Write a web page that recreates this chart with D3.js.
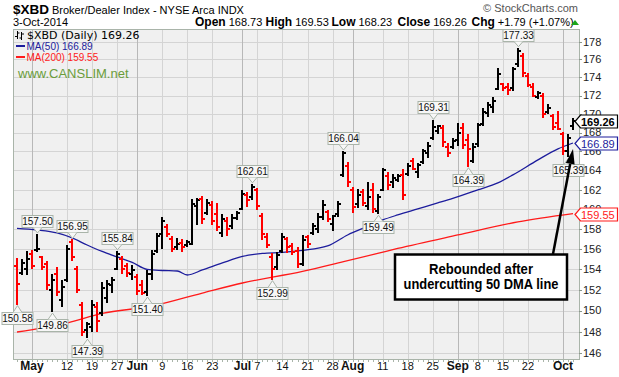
<!DOCTYPE html>
<html>
<head>
<meta charset="utf-8">
<script src="https://cdn.jsdelivr.net/npm/d3@7"></script>
<style>
  body { margin: 0; background: #fff; }
  svg { display: block; font-family: "Liberation Sans", Arial, sans-serif; }
</style>
</head>
<body>
<svg id="chart" width="619" height="377"></svg>
<script>
// trading days shown on the chart
const dates = [
  '2014-04-28','2014-04-29','2014-04-30','2014-05-01','2014-05-02','2014-05-05','2014-05-06','2014-05-07','2014-05-08','2014-05-09',
  '2014-05-12','2014-05-13','2014-05-14','2014-05-15','2014-05-16','2014-05-19','2014-05-20','2014-05-21','2014-05-22','2014-05-23',
  '2014-05-27','2014-05-28','2014-05-29','2014-05-30','2014-06-02','2014-06-03','2014-06-04','2014-06-05','2014-06-06','2014-06-09',
  '2014-06-10','2014-06-11','2014-06-12','2014-06-13','2014-06-16','2014-06-17','2014-06-18','2014-06-19','2014-06-20','2014-06-23',
  '2014-06-24','2014-06-25','2014-06-26','2014-06-27','2014-06-30','2014-07-01','2014-07-02','2014-07-03','2014-07-07','2014-07-08',
  '2014-07-09','2014-07-10','2014-07-11','2014-07-14','2014-07-15','2014-07-16','2014-07-17','2014-07-18','2014-07-21','2014-07-22',
  '2014-07-23','2014-07-24','2014-07-25','2014-07-28','2014-07-29','2014-07-30','2014-07-31','2014-08-01','2014-08-04','2014-08-05',
  '2014-08-06','2014-08-07','2014-08-08','2014-08-11','2014-08-12','2014-08-13','2014-08-14','2014-08-15','2014-08-18','2014-08-19',
  '2014-08-20','2014-08-21','2014-08-22','2014-08-25','2014-08-26','2014-08-27','2014-08-28','2014-08-29','2014-09-02','2014-09-03',
  '2014-09-04','2014-09-05','2014-09-08','2014-09-09','2014-09-10','2014-09-11','2014-09-12','2014-09-15','2014-09-16','2014-09-17',
  '2014-09-18','2014-09-19','2014-09-22','2014-09-23','2014-09-24','2014-09-25','2014-09-26','2014-09-29','2014-09-30','2014-10-01',
  '2014-10-02','2014-10-03'
]

const opens = [
  154.3,153.6,154.0,155.5,155.9,155.2,154.5,152.0,153.5,151.0,
  153.0,156.7,154.0,150.5,148.2,148.4,150.3,149.8,151.2,152.5,
  154.0,155.0,154.3,153.5,153.2,152.5,151.8,153.5,155.8,157.5,
  158.2,157.0,156.2,156.6,156.4,156.5,160.3,161.0,159.6,160.4,
  159.5,157.6,158.8,158.3,159.1,160.0,161.5,161.2,162.0,159.3,
  157.2,155.2,154.2,155.8,157.0,156.3,155.8,154.5,157.2,157.6,
  158.0,159.2,159.7,158.5,159.5,163.5,164.5,162.0,160.5,161.8,
  160.3,162.0,159.8,162.0,163.4,162.8,163.0,163.5,163.6,165.0,
  163.8,164.9,165.8,167.4,168.2,168.5,166.5,166.5,167.2,168.5,
  167.2,165.0,166.8,168.9,170.1,170.8,172.7,173.3,173.0,172.8,
  175.5,176.4,174.2,173.0,171.8,172.0,170.2,169.8,169.0,167.8,
  166.0,168.73
]
const highs = [
  155.1,155.0,155.8,155.9,157.50,155.3,154.8,153.5,154.2,153.0,
  156.4,156.95,154.3,150.8,148.9,151.0,150.8,152.8,153.0,153.2,
  155.84,155.3,154.6,154.4,153.5,153.0,153.9,155.9,157.6,159.2,
  158.5,157.3,157.1,157.0,156.9,161.0,161.1,161.4,161.0,160.8,
  160.6,159.5,159.2,159.5,159.8,162.0,161.8,162.61,162.2,159.6,
  157.6,155.6,155.7,157.6,157.2,156.6,156.2,157.4,157.4,158.6,
  159.6,160.9,159.9,159.4,160.8,166.04,164.9,162.3,162.1,162.1,
  162.8,162.7,161.6,164.3,163.8,163.6,163.6,164.1,164.8,165.3,
  164.8,166.3,167.0,169.31,168.8,168.8,166.9,167.4,169.0,169.0,
  167.9,166.9,169.0,170.6,171.3,171.8,175.0,173.4,173.4,175.2,
  177.33,176.7,174.5,173.4,172.5,172.3,171.1,170.0,170.3,168.1,
  167.9,169.53
]
const lows = [
  150.58,153.4,153.4,154.0,155.7,153.9,152.0,149.86,151.4,150.3,
  152.8,154.8,151.7,147.6,147.39,148.0,148.0,149.5,150.7,151.7,
  153.9,153.5,153.2,153.0,151.5,151.5,151.40,153.0,155.6,156.0,
  157.2,155.7,155.9,155.7,156.2,156.4,158.4,158.5,159.4,158.4,
  157.8,157.2,157.3,158.0,158.9,159.9,160.2,160.9,159.9,156.9,
  156.1,152.99,153.9,155.6,155.6,155.4,154.1,154.3,156.1,157.4,
  157.6,158.9,158.7,157.8,159.2,163.3,162.3,159.6,160.1,160.3,
  159.9,159.6,159.49,161.9,162.0,162.2,162.8,160.9,163.4,164.0,
  163.2,164.7,165.3,167.2,167.9,166.5,165.4,166.3,166.6,166.3,
  164.39,164.8,166.5,168.7,169.7,170.1,172.6,172.5,172.1,172.5,
  175.2,174.1,172.9,171.8,171.6,169.6,170.0,168.3,168.3,165.6,
  165.39,168.23
]
const closes = [
  152.6,154.6,155.0,154.3,156.0,154.2,152.5,153.0,151.8,152.3,
  156.0,155.2,152.0,148.0,148.7,150.5,149.0,152.2,152.6,153.0,
  155.5,154.0,153.6,153.9,151.9,151.7,153.5,155.5,157.3,158.8,
  157.5,156.0,156.5,156.2,156.7,160.5,160.9,159.0,160.6,158.8,
  158.2,159.0,158.0,159.1,159.6,161.6,160.9,162.3,160.3,157.5,
  156.4,154.0,155.4,157.2,156.2,155.7,154.5,156.9,156.5,158.3,
  159.2,160.4,159.0,159.3,160.5,165.8,162.8,160.2,161.5,160.6,
  161.2,160.0,161.3,164.0,162.5,163.2,163.4,161.5,164.5,164.2,
  164.6,166.0,166.6,168.6,168.7,167.0,165.8,167.1,168.0,166.7,
  166.2,166.5,168.8,170.2,171.0,171.4,174.4,172.8,172.6,174.9,
  177.0,174.5,173.2,172.0,172.3,170.0,170.6,168.6,168.4,166.0,
  167.47,169.26
]

// moving averages
const ma50Dates = ['2014-04-28','2014-05-02','2014-05-08','2014-05-13','2014-05-16','2014-05-21','2014-05-27','2014-05-30',
  '2014-06-04','2014-06-09','2014-06-12','2014-06-16','2014-06-19','2014-06-25','2014-07-01','2014-07-08','2014-07-14',
  '2014-07-18','2014-07-25','2014-07-31','2014-08-06','2014-08-11','2014-08-14','2014-08-20','2014-08-26','2014-08-29',
  '2014-09-08','2014-09-12','2014-09-17','2014-09-24','2014-09-30','2014-10-03']
const ma50 = [158.06,157.90,157.60,157.10,156.40,155.76,155.21,154.67,
  153.98,153.88,153.83,153.44,153.93,154.62,155.26,155.56,155.66,
  155.86,156.30,157.40,158.26,158.91,159.42,160.03,160.64,161.11,
  161.98,162.70,163.53,165.11,166.27,166.89]
const ma200Dates = ['2014-04-28','2014-05-12','2014-05-21','2014-06-05','2014-06-19','2014-07-01','2014-07-18',
  '2014-07-30','2014-08-08','2014-08-14','2014-09-02','2014-09-18','2014-10-03']
const ma200 = [147.97,148.82,149.73,150.44,151.69,152.66,153.79,154.72,155.56,156.05,157.40,158.71,159.55]

const yTicks = [146,148,150,152,154,156,158,160,162,164,166,168,170,172,174,176,178]
const xTicks = [
  ['2014-05-01','May'],['2014-05-12','12'],['2014-05-19','19'],['2014-05-27','27'],['2014-06-02','Jun'],
  ['2014-06-09','9'],['2014-06-16','16'],['2014-06-23','23'],['2014-07-01','Jul'],['2014-07-07','7'],
  ['2014-07-14','14'],['2014-07-21','21'],['2014-07-28','28'],['2014-08-01','Aug'],['2014-08-11','11'],
  ['2014-08-18','18'],['2014-08-25','25'],['2014-09-02','Sep'],['2014-09-08','8'],['2014-09-15','15'],
  ['2014-09-22','22'],['2014-10-01','Oct']
]
// highs (H) and lows (L) that carry a price tag
const callouts = [
  ['2014-04-28','L'],['2014-05-02','H'],['2014-05-07','L'],['2014-05-13','H'],['2014-05-16','L'],
  ['2014-05-27','H'],['2014-06-04','L'],['2014-07-03','H'],['2014-07-10','L'],['2014-07-30','H'],
  ['2014-08-08','L'],['2014-08-25','H'],['2014-09-04','L'],['2014-09-18','H'],['2014-10-02','L']
]

const svg = d3.select('#chart')
const pLeft = 13, pRight = 579, pTop = 29, pBottom = 359

const x = d3.scalePoint().domain(dates).range([17, 573])
const y = d3.scaleLog().domain([145.45, 179.45]).range([pBottom, pTop])

// plot area
svg.append('rect')
  .attr('x', pLeft).attr('y', pTop)
  .attr('width', pRight - pLeft).attr('height', pBottom - pTop)
  .attr('fill', '#f0f0f0')

const grid = svg.append('g').attr('shape-rendering', 'crispEdges')
grid.append('g').selectAll('line')
  .data(yTicks)
  .join('line')
  .attr('x1', pLeft).attr('x2', pRight)
  .attr('y1', d => Math.round(y(d)) + 0.5)
  .attr('y2', d => Math.round(y(d)) + 0.5)
  .attr('stroke', '#d4d4d4')

grid.append('g').selectAll('line')
  .data(xTicks)
  .join('line')
  .attr('x1', d => Math.round(x(d[0])) + 0.5)
  .attr('x2', d => Math.round(x(d[0])) + 0.5)
  .attr('y1', pTop).attr('y2', pBottom)
  .attr('stroke', d => isNaN(d[1]) ? '#b8b8b8' : '#d4d4d4')

svg.append('rect')
  .attr('x', pLeft + 0.5).attr('y', pTop + 0.5)
  .attr('width', pRight - pLeft).attr('height', pBottom - pTop)
  .attr('fill', 'none')
  .attr('stroke', '#a9b4a9')
  .attr('shape-rendering', 'crispEdges')

// small tick marks
svg.append('g').selectAll('line')
  .data(yTicks)
  .join('line')
  .attr('x1', pRight).attr('x2', pRight + 3)
  .attr('y1', d => Math.round(y(d)) + 0.5)
  .attr('y2', d => Math.round(y(d)) + 0.5)
  .attr('stroke', '#8a968a')

svg.append('g').selectAll('line')
  .data(dates)
  .join('line')
  .attr('x1', d => Math.round(x(d)) + 0.5)
  .attr('x2', d => Math.round(x(d)) + 0.5)
  .attr('y1', pBottom + 1).attr('y2', pBottom + 3)
  .attr('stroke', '#a9b4a9')

// axis labels
svg.append('g').selectAll('text')
  .data(yTicks)
  .join('text')
  .attr('x', 583)
  .attr('y', d => y(d))
  .attr('dy', '0.35em')
  .attr('font-size', 11)
  .attr('fill', '#222')
  .text(d => d)

svg.append('g').selectAll('text')
  .data(xTicks)
  .join('text')
  .attr('x', d => x(d[0]))
  .attr('y', 370)
  .attr('text-anchor', 'middle')
  .attr('font-size', d => isNaN(d[1]) ? 12 : 11)
  .attr('font-weight', d => isNaN(d[1]) ? 'bold' : 'normal')
  .attr('fill', '#111')
  .text(d => d[1])

// clip for the price area
svg.append('clipPath').attr('id', 'plotclip')
  .append('rect')
  .attr('x', pLeft + 1).attr('y', pTop + 1)
  .attr('width', pRight - pLeft - 1).attr('height', pBottom - pTop - 1)

const plot = svg.append('g').attr('clip-path', 'url(#plotclip)')

// moving averages
const maLine = d3.line()
  .x(d => x(d[0]))
  .y(d => y(d[1]))
  .curve(d3.curveMonotoneX)

plot.append('path')
  .datum(d3.zip(ma200Dates, ma200))
  .attr('d', maLine)
  .attr('fill', 'none')
  .attr('stroke', '#ff1a1a')
  .attr('stroke-width', 1.3)

plot.append('path')
  .datum(d3.zip(ma50Dates, ma50))
  .attr('d', maLine)
  .attr('fill', 'none')
  .attr('stroke', '#1c1c9c')
  .attr('stroke-width', 1.3)

// OHLC bars
const bars = dates.map((d, i) => ({
  d: d, o: opens[i], h: highs[i], l: lows[i], c: closes[i],
  up: i ? closes[i] > closes[i - 1] : closes[i] >= opens[i]
}))

const barG = plot.append('g').attr('shape-rendering', 'crispEdges')
  .selectAll('g')
  .data(bars)
  .join('g')
  .attr('stroke', b => b.up ? '#000' : '#ff0000')

barG.append('line')
  .attr('stroke-width', 2)
  .attr('x1', b => Math.round(x(b.d)))
  .attr('x2', b => Math.round(x(b.d)))
  .attr('y1', b => y(b.h))
  .attr('y2', b => y(b.l))

barG.append('line')
  .attr('stroke-width', 1.5)
  .attr('x1', b => Math.round(x(b.d)) - 3)
  .attr('x2', b => Math.round(x(b.d)))
  .attr('y1', b => Math.round(y(b.o)))
  .attr('y2', b => Math.round(y(b.o)))

barG.append('line')
  .attr('stroke-width', 1.5)
  .attr('x1', b => Math.round(x(b.d)))
  .attr('x2', b => Math.round(x(b.d)) + 3)
  .attr('y1', b => Math.round(y(b.c)))
  .attr('y2', b => Math.round(y(b.c)))

// price tags on highs and lows
const tagG = svg.append('g')
callouts.forEach(([d, kind]) => {
  const i = dates.indexOf(d)
  const val = kind === 'H' ? highs[i] : lows[i]
  const bx = Math.round(x(d))
  const tip = kind === 'H' ? y(val) - 1 : y(val) + 1
  const bh = 12, bw = 31
  const by = Math.round(kind === 'H' ? tip - 6 - bh : tip + 6)
  const g = tagG.append('g')
  const edge = kind === 'H' ? by + bh + 0.5 : by + 0.5
  g.append('rect')
    .attr('x', bx - bw / 2 + 0.5).attr('y', by + 0.5)
    .attr('width', bw).attr('height', bh)
    .attr('fill', '#f7f7f7')
    .attr('stroke', '#a9b4a9')
  g.append('path')
    .attr('d', `M${bx - 4},${edge} L${bx + 0.5},${tip} L${bx + 5},${edge}`)
    .attr('fill', '#f7f7f7')
    .attr('stroke', '#a9b4a9')
  g.append('text')
    .attr('x', bx + 0.5)
    .attr('y', by + 10)
    .attr('text-anchor', 'middle')
    .attr('font-size', 10)
    .attr('fill', '#111')
    .text(val.toFixed(2))
})

// last value tags on the right axis
const lastTags = [
  [closes[closes.length - 1], '#000', 'bold'],
  [ma50[ma50.length - 1], '#1c1c9c', 'normal'],
  [ma200[ma200.length - 1], '#ff1a1a', 'normal']
]
lastTags.forEach(([v, col, fw]) => {
  const ty = Math.round(y(v)) + 0.5
  svg.append('path')
    .attr('d', `M575,${ty} L580.5,${ty - 6.5} L617.5,${ty - 6.5} L617.5,${ty + 6.5} L580.5,${ty + 6.5} Z`)
    .attr('fill', '#fff')
    .attr('stroke', col)
    .attr('stroke-width', 1.2)
  svg.append('text')
    .attr('x', 581).attr('y', ty + 4)
    .attr('font-size', 11)
    .attr('font-weight', fw)
    .attr('fill', col)
    .text(v.toFixed(2))
})

// legend in the plot
const leg = svg.append('g')
leg.append('path')
  .attr('d', 'M17.5,31 V39 M15,36.5 H17.5 M17.5,33 H19.5 M21.5,32 V40 M19.5,38 H21.5 M21.5,34 H24')
  .attr('stroke', '#000').attr('fill', 'none')
leg.append('text')
  .attr('x', 27).attr('y', 38.5)
  .attr('font-family', '"DejaVu Sans", sans-serif')
  .attr('font-size', 11)
  .attr('fill', '#000')
  .text(`$XBD (Daily) ${closes[closes.length - 1].toFixed(2)}`)
leg.append('line').attr('x1', 16).attr('x2', 25).attr('y1', 46).attr('y2', 46)
  .attr('stroke', '#1c1c9c').attr('stroke-width', 2)
leg.append('text')
  .attr('x', 26.5).attr('y', 49.5)
  .attr('font-size', 10)
  .attr('fill', '#1c1c9c')
  .text(`MA(50) ${ma50[ma50.length - 1].toFixed(2)}`)
leg.append('line').attr('x1', 16).attr('x2', 25).attr('y1', 57).attr('y2', 57)
  .attr('stroke', '#ff1a1a').attr('stroke-width', 2)
leg.append('text')
  .attr('x', 26.5).attr('y', 60.5)
  .attr('font-size', 10)
  .attr('fill', '#ff1a1a')
  .text(`MA(200) ${ma200[ma200.length - 1].toFixed(2)}`)
leg.append('text')
  .attr('x', 18).attr('y', 78)
  .attr('font-size', 13)
  .attr('fill', '#6a9c3a')
  .text('www.CANSLIM.net')

// header
svg.append('text')
  .attr('x', 13).attr('y', 14)
  .attr('font-size', 13.5)
  .attr('font-weight', 'bold')
  .text('$XBD')
svg.append('text')
  .attr('x', 52).attr('y', 14)
  .attr('font-size', 11)
  .text('Broker/Dealer Index - NYSE Arca INDX')
svg.append('text')
  .attr('x', 13).attr('y', 26)
  .attr('font-size', 11)
  .text('3-Oct-2014')
svg.append('text')
  .attr('x', 578).attr('y', 12)
  .attr('text-anchor', 'end')
  .attr('font-size', 11)
  .attr('fill', '#555')
  .text('\u00a9 StockCharts.com')

const quote = [
  ['Open', '168.73', 195], ['High', '169.53', 265.5], ['Low', '168.23', 331.5],
  ['Close', '169.26', 397.5], ['Chg', '+1.79 (+1.07%)', 471.5]
]
quote.forEach(([k, v, qx]) => {
  const t = svg.append('text').attr('x', qx).attr('y', 26)
  t.append('tspan').attr('font-weight', 'bold').attr('font-size', 12).text(k)
  t.append('tspan').attr('dx', 3).attr('font-size', 11).text(v)
})
svg.append('path')
  .attr('d', 'M571,25 L575,20 L579,25 Z')
  .attr('fill', '#1aa51a')

// annotation
svg.append('rect')
  .attr('x', 395).attr('y', 254.5)
  .attr('width', 172).attr('height', 45)
  .attr('fill', '#fff')
  .attr('stroke', '#000')
  .attr('stroke-width', 2.5)
const note = [['Rebounded after', 104], ['undercutting 50 DMA line', 155]]
svg.append('g').selectAll('text')
  .data(note)
  .join('text')
  .attr('x', 481)
  .attr('y', (d, i) => 273.5 + i * 15.5)
  .attr('text-anchor', 'middle')
  .attr('font-size', 14.5)
  .attr('font-weight', 'bold')
  .attr('textLength', d => d[1])
  .attr('lengthAdjust', 'spacingAndGlyphs')
  .text(d => d[0])

const ax0 = 553, ay0 = 254, ax1 = 573, ay1 = 149
const ang = Math.atan2(ay1 - ay0, ax1 - ax0)
const hl = 15, hw = 4.5
const bxp = ax1 - hl * Math.cos(ang), byp = ay1 - hl * Math.sin(ang)
svg.append('line')
  .attr('x1', ax0).attr('y1', ay0)
  .attr('x2', bxp).attr('y2', byp)
  .attr('stroke', '#000').attr('stroke-width', 2.5)
svg.append('path')
  .attr('d', `M${ax1},${ay1} L${bxp + hw * Math.sin(ang)},${byp - hw * Math.cos(ang)} L${bxp - hw * Math.sin(ang)},${byp + hw * Math.cos(ang)} Z`)
  .attr('fill', '#000')
</script>
</body>
</html>
